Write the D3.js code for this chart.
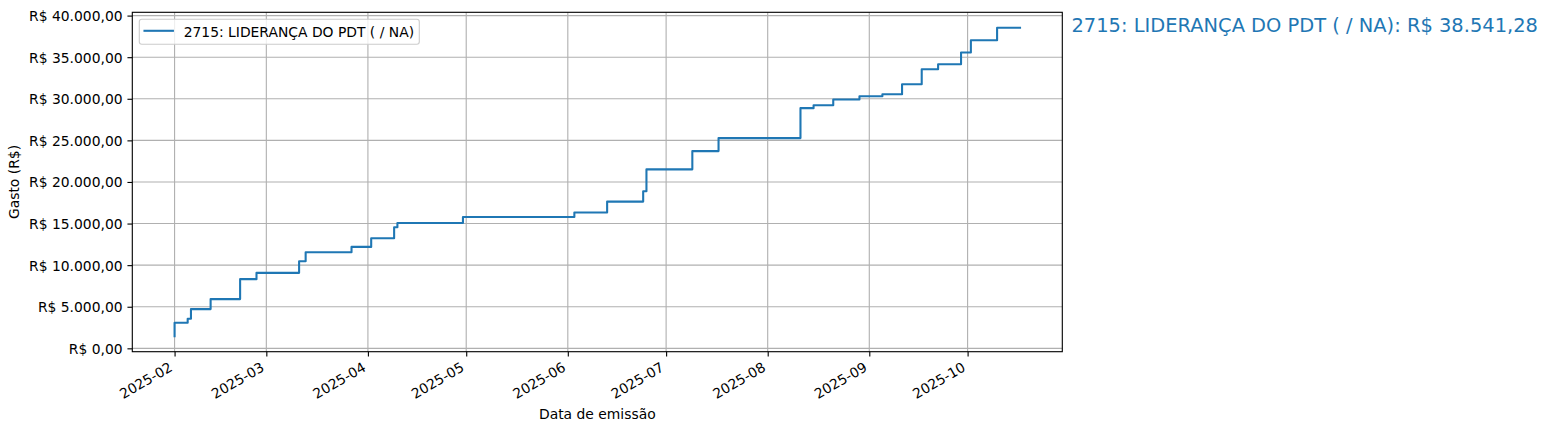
<!DOCTYPE html>
<html>
<head>
<meta charset="utf-8">
<script src="https://cdn.jsdelivr.net/npm/d3@7"></script>
<style>
  html, body { margin: 0; padding: 0; background: #ffffff; }
  svg { display: block; font-family: "DejaVu Sans", sans-serif; }
</style>
</head>
<body>
<svg id="chart" width="1547" height="432"></svg>
<script>
// ---- data ----
const seriesName = "2715: LIDERANÇA DO PDT ( / NA)";
const dates = ["2025-02-01","2025-02-05","2025-02-06","2025-02-12","2025-02-21","2025-02-26",
  "2025-03-11","2025-03-13","2025-03-27","2025-04-02","2025-04-09","2025-04-10","2025-04-30",
  "2025-06-03","2025-06-13","2025-06-24","2025-06-25","2025-07-09","2025-07-17","2025-08-11",
  "2025-08-15","2025-08-21","2025-08-29","2025-09-05","2025-09-11","2025-09-17","2025-09-22",
  "2025-09-29","2025-10-02","2025-10-10","2025-10-17"];
const cumulative = [1450, 3070, 3550, 4716, 5916, 8316, 9072, 10476, 11556, 12192, 13236, 14556,
  15072, 15792, 16320, 17640, 18876, 21516, 23712, 25272, 28872, 29232, 29916, 30300, 30552,
  31752, 33552, 34152, 35556, 37032, 38541.28];
const yTicks = [0, 5000, 10000, 15000, 20000, 25000, 30000, 35000, 40000];
const xTickDates = ["2025-02-01","2025-03-01","2025-04-01","2025-05-01","2025-06-01",
  "2025-07-01","2025-08-01","2025-09-01","2025-10-01"];
const xLabel = "Data de emissão";
const yLabel = "Gasto (R$)";

// ---- helpers ----
const parse = d3.utcParse("%Y-%m-%d");
const brlFmt = d3.formatLocale({decimal: ",", thousands: ".", grouping: [3], currency: ["R$ ", ""]}).format(",.2f");
const brl = v => "R$ " + brlFmt(v);
const data = dates.map((d, i) => ({date: parse(d), value: cumulative[i]}));

const svg = d3.select("#chart");
const pLeft = 132.3, pRight = 1062.3, pTop = 12.3, pBottom = 351.7;
const color = "#1f77b4";
const pt = 100 / 72;
const fs = 10 * pt;

const xExt = d3.extent(data, d => d.date);
const xPad = (xExt[1] - xExt[0]) * 0.05;
const x = d3.scaleUtc()
  .domain([new Date(+xExt[0] - xPad), new Date(+xExt[1] + xPad)])
  .range([pLeft, pRight]);
const yExt = d3.extent(data, d => d.value);
const yPad = (yExt[1] - yExt[0]) * 0.05;
const y = d3.scaleLinear()
  .domain([yExt[0] - yPad, yExt[1] + yPad])
  .range([pBottom, pTop]);

// grid
const g = svg.append("g");
g.selectAll("line.gx").data(xTickDates.map(parse)).enter().append("line")
  .attr("x1", d => x(d)).attr("x2", d => x(d)).attr("y1", pTop).attr("y2", pBottom)
  .attr("stroke", "#b0b0b0").attr("stroke-width", 0.8 * pt);
g.selectAll("line.gy").data(yTicks).enter().append("line")
  .attr("x1", pLeft).attr("x2", pRight).attr("y1", d => y(d)).attr("y2", d => y(d))
  .attr("stroke", "#b0b0b0").attr("stroke-width", 0.8 * pt);

// line
const line = d3.line().x(d => x(d.date)).y(d => y(d.value)).curve(d3.curveStepBefore);
svg.append("path").datum(data).attr("d", line)
  .attr("fill", "none").attr("stroke", color).attr("stroke-width", 1.5 * pt)
  .attr("stroke-linecap", "square").attr("stroke-linejoin", "round");

// spines
svg.append("rect").attr("x", pLeft).attr("y", pTop).attr("width", pRight - pLeft).attr("height", pBottom - pTop)
  .attr("fill", "none").attr("stroke", "#000").attr("stroke-width", 0.8 * pt);

// y axis
const yAxis = svg.append("g").attr("transform", `translate(${pLeft},0)`)
  .call(d3.axisLeft(y).tickValues(yTicks).tickFormat(brl).tickSize(3.5 * pt).tickSizeOuter(0).tickPadding(3.5 * pt));
yAxis.select(".domain").remove();
yAxis.selectAll(".tick line").attr("stroke", "#000").attr("stroke-width", 0.8 * pt);
yAxis.selectAll(".tick text").attr("font-size", fs).attr("font-family", "DejaVu Sans")
  .attr("fill", "#000").attr("dy", "0.36em");

// x axis
const xAxis = svg.append("g").attr("transform", `translate(0,${pBottom})`)
  .call(d3.axisBottom(x).tickValues(xTickDates.map(parse)).tickFormat(d3.utcFormat("%Y-%m")).tickSize(3.5 * pt).tickSizeOuter(0));
xAxis.select(".domain").remove();
xAxis.selectAll(".tick line").attr("stroke", "#000").attr("stroke-width", 0.8 * pt);
xAxis.selectAll(".tick text").attr("font-size", fs).attr("font-family", "DejaVu Sans")
  .attr("fill", "#000").attr("text-anchor", "end")
  .attr("x", 0).attr("y", 0).attr("dy", null)
  .attr("transform", "translate(-1.6,18.5) rotate(-30)");

// axis labels
svg.append("text").attr("x", (pLeft + pRight) / 2).attr("y", 418.5).attr("text-anchor", "middle")
  .attr("font-size", fs).text(xLabel);
svg.append("text").attr("transform", `translate(18.5,${(pTop + pBottom) / 2}) rotate(-90)`)
  .attr("text-anchor", "middle").attr("font-size", fs).text(yLabel);

// legend
const lg = svg.append("g");
lg.append("rect").attr("x", 139.3).attr("y", 19.3).attr("width", 280).attr("height", 25)
  .attr("rx", 2.5).attr("fill", "#fff").attr("fill-opacity", 0.8)
  .attr("stroke", "#cccccc").attr("stroke-width", 0.8 * pt);
lg.append("line").attr("x1", 144.5).attr("x2", 172.9).attr("y1", 30.8).attr("y2", 30.8)
  .attr("stroke", color).attr("stroke-width", 1.5 * pt).attr("stroke-linecap", "square");
lg.append("text").attr("x", 183.7).attr("y", 36.5).attr("font-size", fs).text(seriesName);

// right annotation
const last = data[data.length - 1];
svg.append("text").attr("x", 1071.5).attr("y", 32.3).attr("font-size", 14 * pt).attr("fill", color)
  .text(`${seriesName}: ${brl(last.value)}`);
</script>
</body>
</html>
